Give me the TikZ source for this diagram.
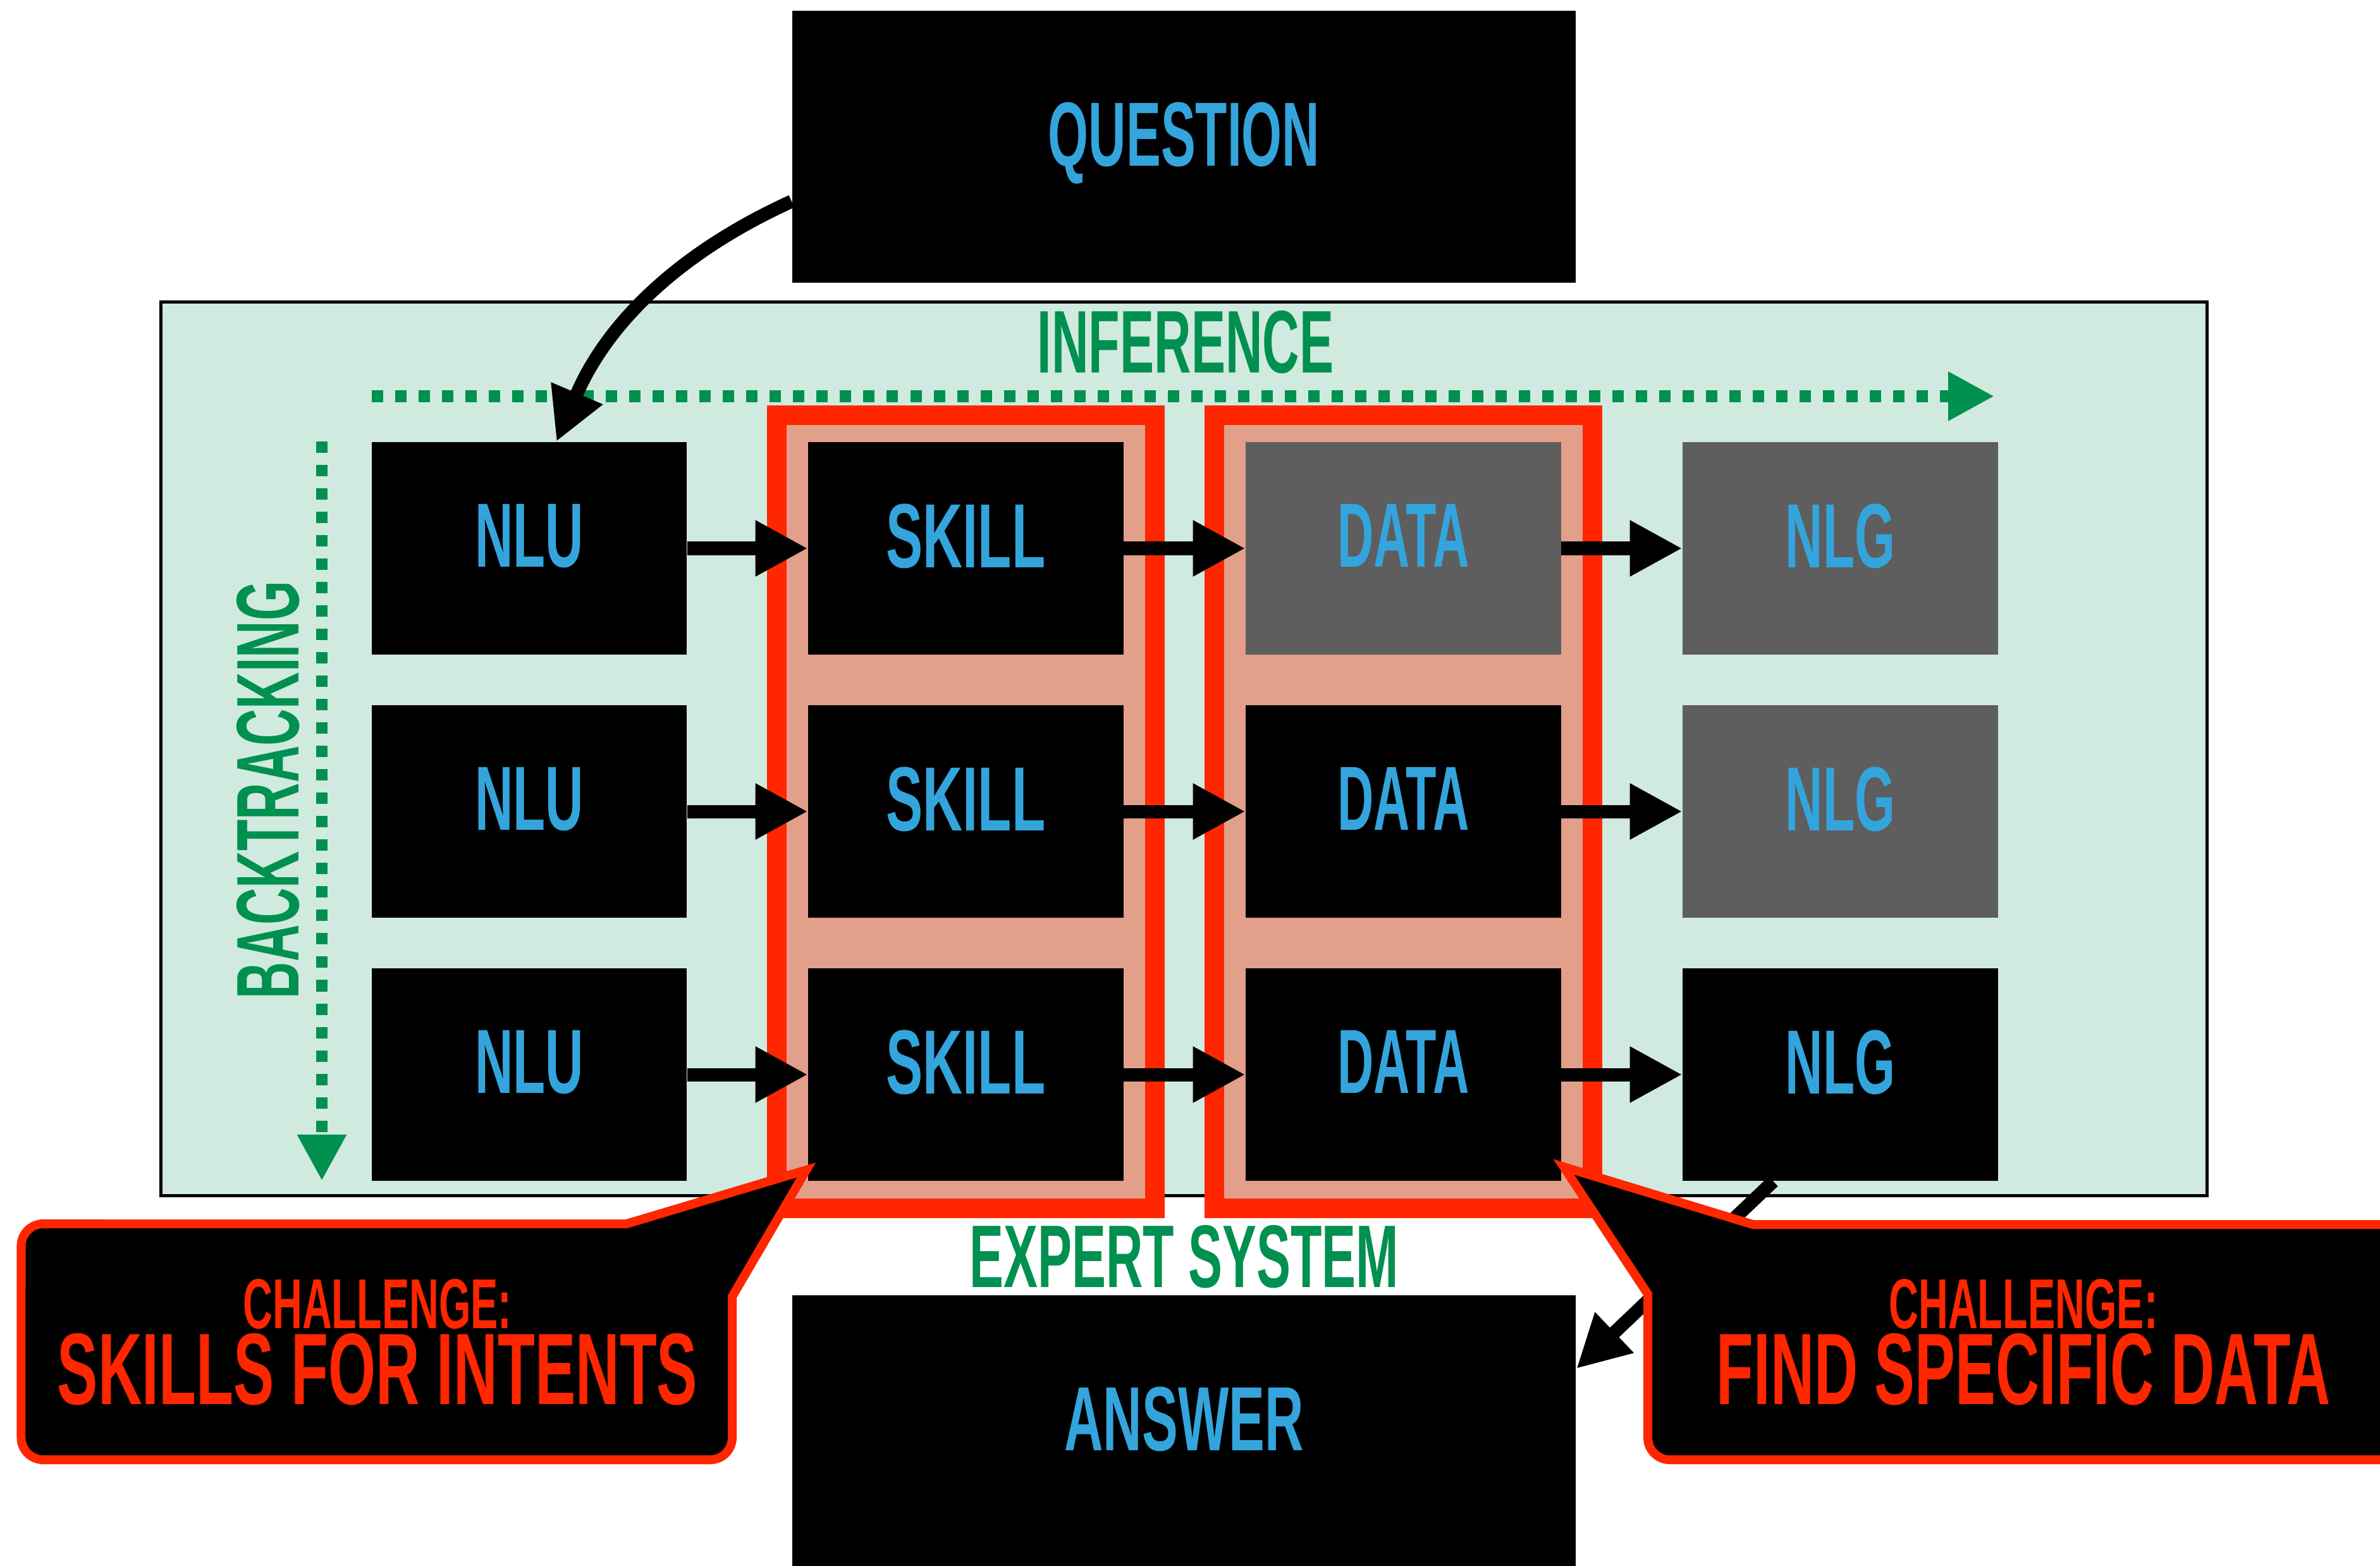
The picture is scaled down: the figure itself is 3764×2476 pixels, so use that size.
\documentclass[tikz,border=0pt]{standalone}
\usepackage{fontspec}
\setmainfont{Liberation Sans}
\usepackage{graphicx}
\usetikzlibrary{arrows.meta,calc}
\definecolor{mint}{HTML}{D0EADF}
\definecolor{tgreen}{HTML}{00904F}
\definecolor{tblue}{HTML}{34A5DC}
\definecolor{tred}{HTML}{FF2600}
\definecolor{salmon}{HTML}{E29F8A}
\definecolor{dgray}{HTML}{5E5E5E}
\newcommand{\sq}[2]{\scalebox{#1}[1]{#2}}
\newcommand{\chtext}[3]{{\renewcommand{\arraystretch}{0}%
  \begin{tabular}{@{}c@{}}\fontsize{31.8}{32}\selectfont\sq{#1}{CHALLENGE:}\\[2pt]
  \fontsize{45.7}{46}\selectfont\sq{#2}{#3}\end{tabular}}}
\begin{document}
\begin{tikzpicture}[x=0.01cm,y=-0.01cm,
  stage/.style={fill=black, inner sep=0, minimum width=4.98cm, minimum height=3.36cm,
    text=tblue, font=\bfseries\fontsize{41}{41}\selectfont, text depth=0.4cm},
  dimbox/.style={fill=dgray},
  iobox/.style={fill=black, inner sep=0, minimum width=12.39cm, minimum height=4.30cm,
    text=tblue, font=\bfseries\fontsize{41}{41}\selectfont, text depth=0.4cm},
  flow/.style={line width=0.21cm, -{Triangle[length=0.83cm,width=0.83cm]}},
  dots/.style={draw=tgreen, line width=0.18cm, dash pattern=on 0.18cm off 0.19cm,
    -{Triangle[length=0.73cm,width=0.73cm]}},
  frame/.style={draw=tred, fill=salmon, line width=0.31cm, inner sep=0,
    minimum width=5.98cm, minimum height=12.54cm},
  panelbox/.style={draw=black, fill=mint, line width=0.05cm, inner sep=0,
    minimum width=32.35cm, minimum height=14.12cm},
  glabel/.style={text=tgreen, font=\bfseries\fontsize{40}{40}\selectfont, inner sep=0},
  callout/.style={draw=tred, fill=black, line width=0.14cm, line join=miter},
  ctext/.style={text=tred, inner sep=0, font=\bfseries, anchor=north},
]
\useasboundingbox (0,0) rectangle (3764,2476);
\clip (0,0) rectangle (3764,2476);
\fill[white] (0,0) rectangle (3764,2476);

% panel and frames
\node[panelbox] (panel) at (1872.5,1184) {};
\node[frame] (frameA) at (1527.5,1283.5) {};
\node[frame] (frameB) at (2219.5,1283.5) {};

% question / answer
\node[iobox] (question) at (1872.5,232) {\sq{0.57}{QUESTION}};
\node[iobox] (answer) at (1872.5,2263) {\sq{0.59}{ANSWER}};

% stages
\node[stage] (nlu1) at (837,867) {\sq{0.58}{NLU}};
\node[stage] (nlu2) at (837,1283) {\sq{0.58}{NLU}};
\node[stage] (nlu3) at (837,1699) {\sq{0.58}{NLU}};
\node[stage] (skill1) at (1527.5,867) {\sq{0.605}{SKILL}};
\node[stage] (skill2) at (1527.5,1283) {\sq{0.605}{SKILL}};
\node[stage] (skill3) at (1527.5,1699) {\sq{0.605}{SKILL}};
\node[stage,dimbox] (data1) at (2219.5,867) {\sq{0.55}{DATA}};
\node[stage] (data2) at (2219.5,1283) {\sq{0.55}{DATA}};
\node[stage] (data3) at (2219.5,1699) {\sq{0.55}{DATA}};
\node[stage,dimbox] (nlg1) at (2910.5,867) {\sq{0.57}{NLG}};
\node[stage,dimbox] (nlg2) at (2910.5,1283) {\sq{0.57}{NLG}};
\node[stage] (nlg3) at (2910.5,1699) {\sq{0.57}{NLG}};

\foreach \r in {1,2,3}{
  \draw[flow] (nlu\r) -- (skill\r);
  \draw[flow] (skill\r) -- (data\r);
  \draw[flow] (data\r) -- (nlg\r);
}

% labels
\node[glabel] (inference) at (1875,541) {\sq{0.576}{INFERENCE}};
\node[glabel] (expert) at (1873,1987) {\sq{0.575}{EXPERT SYSTEM}};
\node[glabel, rotate=90] (backtrack) at (424,1249) {\sq{0.575}{BACKTRACKING}};

% dotted arrows
\coordinate (infA) at (588,626.5);
\coordinate (infB) at (3154,626.5);
\draw[dots] (infA) -- (infB);
\coordinate (btA) at (509,698);
\coordinate (btB) at (509,1867);
\draw[dots] (btA) -- (btB);

% question -> nlu
\draw[flow] ($(question.south west)!0.3!(question.north west)$)
  .. controls (1068,402) and (958,515) .. ([xshift=0.43cm]nlu1.north);

% nlg -> answer
\draw[flow] ([xshift=-1.06cm]nlg3.south) -- ([yshift=0.99cm]answer.east);

% callouts
\draw[callout] (991,1935) -- (1275,1850) -- (1158,2050) -- (1158,2273)
  arc[start angle=0,end angle=-90,radius=0.35cm] -- (68.5,2308)
  arc[start angle=-90,end angle=-180,radius=0.35cm] -- (33.5,1970)
  arc[start angle=180,end angle=90,radius=0.35cm] -- cycle;
\draw[callout] (3800,1936) -- (2772,1936) -- (2473,1845) -- (2606,2046) -- (2606,2273)
  arc[start angle=180,end angle=270,radius=0.35cm] -- (3800,2308) -- cycle;

\node[ctext] (chA) at (597,2022) {\chtext{0.58}{0.60}{SKILLS FOR INTENTS}};
\node[ctext] (chB) at (3200,2022) {\chtext{0.58}{0.596}{FIND SPECIFIC DATA}};
\end{tikzpicture}
\end{document}
